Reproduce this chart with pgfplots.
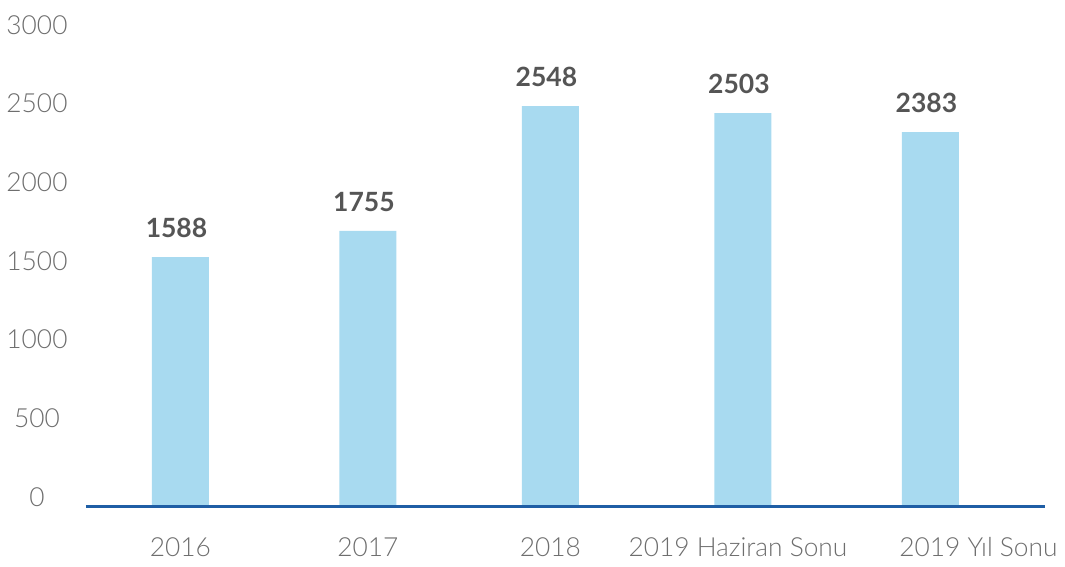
\documentclass[border=0pt]{standalone}
\usepackage{pgfplots}
\pgfplotsset{compat=1.18}
\usepackage{fontspec}
\setmainfont{Lato}
\newfontfamily\latolight{Lato Light}
\definecolor{barblue}{RGB}{168,218,240}
\definecolor{axisblue}{RGB}{31,94,165}
\definecolor{ticktext}{RGB}{110,110,110}
\definecolor{valtext}{RGB}{85,85,85}
\begin{document}
\begin{tikzpicture}
\begin{axis}[
  at={(0,0)}, anchor=south west,
  scale only axis, width=959pt, height=472pt,
  xmin=-0.504, xmax=4.611, ymin=0, ymax=3000,
  enlargelimits=false, clip=false,
  ybar, bar width=57pt,
  axis on top=true,
  axis lines=left,
  axis line style={-},
  y axis line style={draw=none},
  x axis line style={draw=axisblue, line width=3pt},
  major tick length=0pt,
  ytick={0,500,...,3000},
  xtick={0,1,1.973,3,4},
  xticklabels={2016,2017,2018,{\hspace*{-10pt}2019 Haziran Sonu},{\hspace*{96pt}2019 Yıl Sonu}},
  /pgf/number format/1000 sep={},
  /pgf/number format/assume math mode=true,
  tick label style={font=\latolight\fontsize{26.3}{31}\selectfont, text=ticktext},
  yticklabel style={anchor=center, xshift=-49pt, yshift=10pt},
  xticklabel style={anchor=north, inner sep=0pt, yshift=-30pt},
  nodes near coords,
  every node near coord/.append style={font=\bfseries\fontsize{26.5}{31}\selectfont, text=valtext, inner sep=0pt, yshift=19pt, xshift=-4pt},
]
\addplot[fill=barblue, draw=none] coordinates {(0,1588) (1,1755) (1.973,2548) (3,2503) (4,2383)};
\end{axis}
\pgfresetboundingbox
\path (-86pt,-60pt) rectangle (979pt,507pt);
\end{tikzpicture}
\end{document}
